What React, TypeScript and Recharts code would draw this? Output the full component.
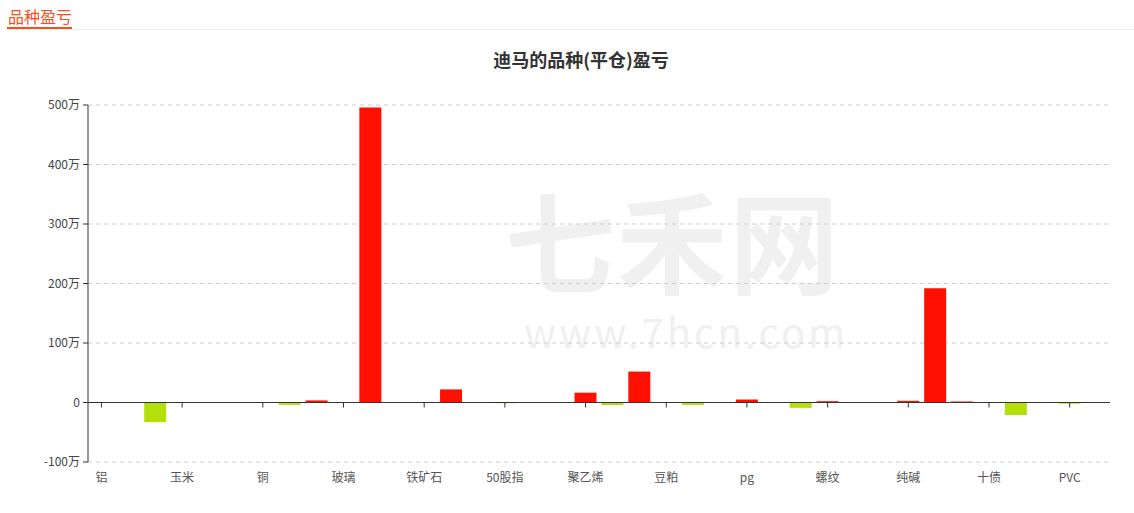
import {
  BarChart,
  Bar,
  Cell,
  XAxis,
  YAxis,
  CartesianGrid,
  ReferenceLine,
} from "recharts";

// categories (only every 3rd is shown on the axis)
const categories = [
  "铝", "白糖", "棉花", "玉米", "菜粕", "甲醇", "铜", "PTA", "橡胶", "玻璃",
  "焦炭", "沪深300", "铁矿石", "焦煤", "豆油", "50股指", "白银", "黄金", "聚乙烯", "聚丙烯",
  "棕榈油", "豆粕", "菜油", "锌", "pg", "鸡蛋", "沥青", "螺纹", "热卷", "镍",
  "纯碱", "苹果", "纸浆", "十债", "五债", "燃油", "PVC", "乙二醇",
];

// 平仓盈亏 (元)
const profits = [
  5000, 0, -330000, 0, 5000, 0, -10000, -40000, 35000, -5000,
  4960000, 0, -5000, 220000, 0, -12000, 6000, 0, 165000, -42000,
  520000, 0, -40000, -5000, 50000, -5000, -90000, 22000, 5000, -5000,
  28000, 1920000, 17000, -5000, -210000, -5000, -20000, 0,
];

const yTicks = [-1000000, 0, 1000000, 2000000, 3000000, 4000000, 5000000];

const data = categories.map((name, i) => ({ name, value: profits[i] }));

const W = 1134;
const H = 513;
const PLOT_TOP = 105;
const PLOT_BOTTOM = 462;
const Y_MIN = -1000000;
const Y_MAX = 5000000;
const ZERO_Y =
  PLOT_TOP + ((PLOT_BOTTOM - PLOT_TOP) * Y_MAX) / (Y_MAX - Y_MIN);

const fmtY = (v: number) => (v === 0 ? "0" : `${v / 10000}万`);

const CategoryTick = (props: any) => {
  const { x, y, payload } = props;
  return (
    <g>
      <line x1={x} x2={x} y1={ZERO_Y} y2={ZERO_Y + 5} stroke="#333" />
      <text
        x={x}
        y={y + 12}
        textAnchor="middle"
        fontSize={12}
        fill="#555"
      >
        {payload.value}
      </text>
    </g>
  );
};

const App = () => {
  return (
    <div
      style={{
        position: "absolute",
        left: 0,
        top: 0,
        width: W,
        height: H,
        background: "#fff",
        fontFamily: "'Noto Sans CJK SC', 'Noto Sans', sans-serif",
      }}
    >
      <div
        style={{
          position: "absolute",
          left: 7,
          top: 4,
          right: 0,
          height: 25,
          borderBottom: "1px solid #eeeeee",
        }}
      >
        <span
          style={{
            display: "inline-block",
            fontSize: 16,
            lineHeight: "22px",
            color: "#f4511e",
            borderBottom: "2px solid #f4511e",
            paddingLeft: 1,
          }}
        >
          品种盈亏
        </span>
      </div>

      {/* watermark */}
      <div
        style={{
          position: "absolute",
          left: 505,
          top: 182,
          fontSize: 110,
          lineHeight: "112px",
          color: "#f0f0f0",
          fontWeight: "bold",
          letterSpacing: 2,
        }}
      >
        七禾网
      </div>
      <div
        style={{
          position: "absolute",
          left: 524,
          top: 308,
          fontSize: 40,
          lineHeight: "46px",
          color: "#f0f0f0",
          letterSpacing: 3,
        }}
      >
        www.7hcn.com
      </div>

      <div
        style={{
          position: "absolute",
          left: 481,
          width: 200,
          top: 46,
          textAlign: "center",
          fontSize: 18,
          fontWeight: "bold",
          color: "#333",
        }}
      >
        迪马的品种(平仓)盈亏
      </div>

      <div style={{ position: "absolute", left: 0, top: 0 }}>
        <BarChart
          width={W}
          height={H}
          data={data}
          margin={{ top: PLOT_TOP, right: W - 1110, left: 28, bottom: 21 }}
          barCategoryGap="9%"
        >
          <CartesianGrid
            vertical={false}
            stroke="#cccccc"
            strokeDasharray="4 4"
          />
          <XAxis
            dataKey="name"
            interval={2}
            axisLine={false}
            tickLine={false}
            height={30}
            tick={<CategoryTick />}
          />
          <YAxis
            domain={[Y_MIN, Y_MAX]}
            ticks={yTicks}
            tickFormatter={fmtY}
            width={60}
            axisLine={{ stroke: "#333" }}
            tickLine={{ stroke: "#333" }}
            tickSize={5}
            tickMargin={3}
            tick={{ fontSize: 12, fill: "#444" }}
            allowDataOverflow
          />
          <ReferenceLine y={0} stroke="#333" />
          <Bar dataKey="value" isAnimationActive={false}>
            {data.map((d, i) => (
              <Cell key={i} fill={d.value >= 0 ? "#ff1000" : "#b3e00a"} />
            ))}
          </Bar>
        </BarChart>
      </div>
    </div>
  );
};

export default App;
